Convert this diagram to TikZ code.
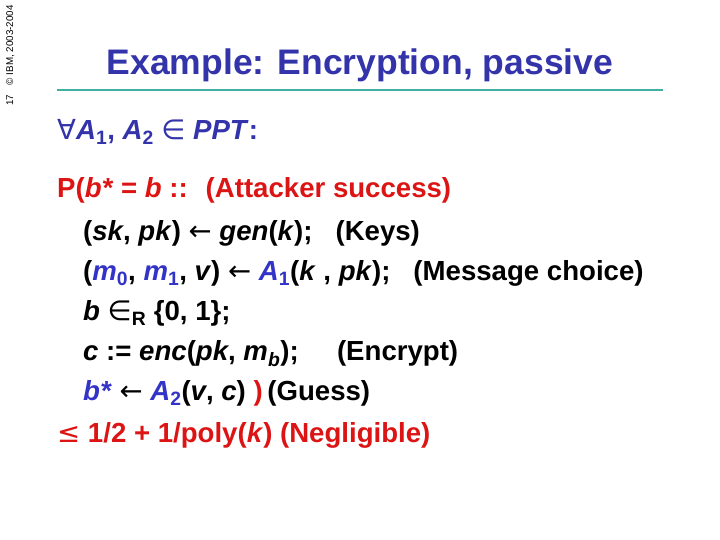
\documentclass[tikz,border=0pt]{standalone}
\usepackage{fontspec}
\setmainfont{Liberation Sans}
\newfontfamily\symf{DejaVu Sans}
\definecolor{ttl}{RGB}{51,51,170}
\definecolor{rd}{RGB}{220,20,20}
\definecolor{bl}{RGB}{51,51,200}
\definecolor{tl}{RGB}{64,176,160}
\newcommand{\lar}{{\symf\mdseries ←}}
\begin{document}
\begin{tikzpicture}[x=1pt,y=1pt,
  ln/.style={anchor=base west,inner sep=0pt,font=\fontsize{27.6}{28}\selectfont\bfseries}]
\useasboundingbox (0,0) rectangle (720,540);
\node[rotate=90,anchor=base west,inner sep=0pt,font=\fontsize{9.8}{10}\selectfont] (side) at (13,434) {17\quad © IBM, 2003-2004};
\node[anchor=base,inner sep=0pt,font=\fontsize{35.5}{36}\selectfont\bfseries,text=ttl] (title) at (360,465) {Example: Encryption, passive};
\coordinate (la) at (57,450); \coordinate (lb) at (663,450);
\draw[tl,line width=1.5pt] (la) -- (lb);
\node[ln,text=ttl] (q) at (57,400) {{\symf\mdseries ∀}\textit{A}\textsubscript{1}, \textit{A}\textsubscript{2} {\symf\mdseries ∈} \textit{PPT}:};
\node[ln,text=rd] (l1) at (57,342) {P(\textit{b*} = \textit{b} :: \ (Attacker success)};
\node[ln] (l2) at (83,299) {(\textit{sk}, \textit{pk}) \lar{} \textit{gen}(\textit{k});\ \ \ (Keys)};
\node[ln] (l3) at (83,259) {(\textcolor{bl}{\textit{m}\textsubscript{0}}, \textcolor{bl}{\textit{m}\textsubscript{1}}, \textit{v}) \lar{} \textcolor{bl}{\textit{A}\textsubscript{1}}(\textit{k} , \textit{pk});\ \ \ (Message choice)};
\node[ln] (l4) at (83,219) {\textit{b} {\symf\mdseries ∈}\textsubscript{R} \{0, 1\};};
\node[ln] (l5) at (83,179) {\textit{c} := \textit{enc}(\textit{pk}, \textit{m}\textsubscript{\textit{b}});\ \ \ \ \ (Encrypt)};
\node[ln] (l6) at (83,139) {\textcolor{bl}{\textit{b*}} \lar{} \textcolor{bl}{\textit{A}\textsubscript{2}}(\textit{v}, \textit{c}) \textcolor{rd}{)}\,(Guess)};
\node[ln,text=rd] (l7) at (57,97) {{\symf\mdseries ≤} 1/2 + 1/poly(\textit{k}) (Negligible)};
\end{tikzpicture}
\end{document}
